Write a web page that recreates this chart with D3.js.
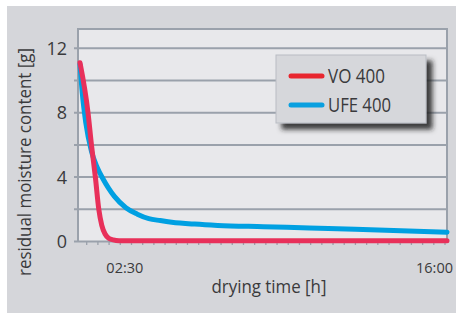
<!DOCTYPE html>
<html><head><meta charset="utf-8">
<script src="https://cdn.jsdelivr.net/npm/d3@7"></script>
<style>
html,body{margin:0;padding:0;background:#fff;}
svg text{font-family:'Open Sans',sans-serif;fill:#3a3a3c;}
</style></head>
<body><svg id="c" width="456" height="313"></svg>
<script>
// ---- data ----
const seriesNames = ["VO 400", "UFE 400"];
const seriesColors = ["#e8305a", "#00a0e2"];
const legendColors = ["#e8262f", "#0aa0e0"];
const voHours   = [0, 0.35, 0.5, 0.67, 0.82, 0.95, 1.1, 1.25, 1.45, 1.7, 2.5, 16];
const voValues  = [11.1, 8.0, 6.0, 4.0, 2.0, 1.0, 0.45, 0.2, 0.1, 0.05, 0.04, 0.04];
const ufeHours  = [0, 0.1, 0.25, 0.5, 0.75, 1.0, 1.25, 1.5, 2.0, 2.5, 3.0, 3.5, 4, 5, 6, 8, 10, 12, 14, 16];
const ufeValues = [11.0, 9.2, 7.4, 5.6, 4.6, 3.9, 3.3, 2.8, 2.1, 1.7, 1.42, 1.3, 1.2, 1.08, 1.0, 0.92, 0.84, 0.76, 0.67, 0.58];
const yTickValues = [0, 4, 8, 12];
const yGridValues = [0, 2, 4, 6, 8, 10, 12];
const xTickValues = [2.5, 16];
const xTickLabels = ["02:30", "16:00"];
const xTitle = "drying time [h]";
const yTitle = "residual moisture content [g]";

// ---- layout ----
const svg = d3.select("#c");
const frame = {l: 78, r: 447, t: 29, b: 241.5};
const x = d3.scaleLinear().domain([0, 16]).range([80, 447]);
const y = d3.scaleLinear().domain([0, 13.2]).range([241.5, 29]);
const gridCol = "#9aa1ab";

svg.append("rect").attr("x", 7).attr("y", 6).attr("width", 449).attr("height", 307).attr("fill", "#d5d6da");
svg.append("rect").attr("x", frame.l).attr("y", frame.t).attr("width", frame.r - frame.l).attr("height", frame.b - frame.t)
  .attr("fill", "#e8e8eb");

// gridlines
svg.append("g").selectAll("line").data(yGridValues).join("line")
  .attr("x1", frame.l - 4).attr("x2", frame.r)
  .attr("y1", d => y(d)).attr("y2", d => y(d))
  .attr("stroke", gridCol).attr("stroke-width", 2);
// frame lines
svg.append("path").attr("d", `M${frame.l},${frame.b}V${frame.t}H${frame.r}V${frame.b}`)
  .attr("fill", "none").attr("stroke", gridCol).attr("stroke-width", 2);

// minor x ticks
const tickPos = d3.scaleLinear().domain([0, 32]).range([86.7, 445]);
svg.append("g").selectAll("line").data(d3.range(33)).join("line")
  .attr("x1", d => tickPos(d)).attr("x2", d => tickPos(d))
  .attr("y1", frame.b).attr("y2", frame.b + 3.5)
  .attr("stroke", gridCol).attr("stroke-width", 1.3);

// y tick labels
svg.append("g").selectAll("text").data(yTickValues).join("text")
  .attr("x", 67).attr("y", d => y(d)).attr("dy", "0.36em")
  .attr("text-anchor", "end").attr("font-size", 18).text(d => d);

// x tick labels
svg.append("g").selectAll("text").data(xTickValues).join("text")
  .attr("x", d => x(d) + 6).attr("y", 272.5)
  .attr("text-anchor", "end").attr("font-size", 15)
  .attr("textLength", 37).attr("lengthAdjust", "spacingAndGlyphs")
  .text((d, i) => xTickLabels[i]);

// titles
svg.append("text").attr("x", 269).attr("y", 292.5).attr("text-anchor", "middle").attr("font-size", 19)
  .attr("textLength", 115).attr("lengthAdjust", "spacingAndGlyphs").text(xTitle);
svg.append("text").attr("transform", "translate(31,162) rotate(-90)").attr("text-anchor", "middle").attr("font-size", 19)
  .attr("textLength", 228).attr("lengthAdjust", "spacingAndGlyphs").text(yTitle);

// lines
const line = d3.line().x(d => x(d[0])).y(d => y(d[1])).curve(d3.curveMonotoneX);
const ufe = ufeHours.map((h, i) => [h, ufeValues[i]]);
const vo = voHours.map((h, i) => [h, voValues[i]]);
svg.append("path").datum(ufe).attr("d", line).attr("fill", "none")
  .attr("stroke", seriesColors[1]).attr("stroke-width", 5).attr("stroke-linecap", "round");
svg.append("path").datum(vo).attr("d", line).attr("fill", "none")
  .attr("stroke", seriesColors[0]).attr("stroke-width", 5).attr("stroke-linecap", "round");

// legend
const defs = svg.append("defs");
const f = defs.append("filter").attr("id", "sh").attr("x", "-20%").attr("y", "-20%").attr("width", "150%").attr("height", "150%");
f.append("feDropShadow").attr("dx", 6).attr("dy", 6).attr("stdDeviation", 2.5).attr("flood-color", "#1e1e1e").attr("flood-opacity", 0.85);
const lg = svg.append("g").attr("transform", "translate(276,55)");
lg.append("rect").attr("width", 150).attr("height", 68).attr("fill", "#d6d7db")
  .attr("stroke", "#b9bcc3").attr("stroke-width", 1).attr("filter", "url(#sh)");
const legendTextW = [57, 63];
const items = lg.selectAll("g.it").data(seriesNames).join("g").attr("class", "it")
  .attr("transform", (d, i) => `translate(0,${21 + i * 29})`);
items.append("line").attr("x1", 15).attr("x2", 46).attr("stroke", (d, i) => legendColors[i])
  .attr("stroke-width", 5).attr("stroke-linecap", "round");
items.append("text").attr("x", 52).attr("dy", "0.36em").attr("font-size", 20)
  .attr("textLength", (d, i) => legendTextW[i]).attr("lengthAdjust", "spacingAndGlyphs").text(d => d);
</script></body></html>
